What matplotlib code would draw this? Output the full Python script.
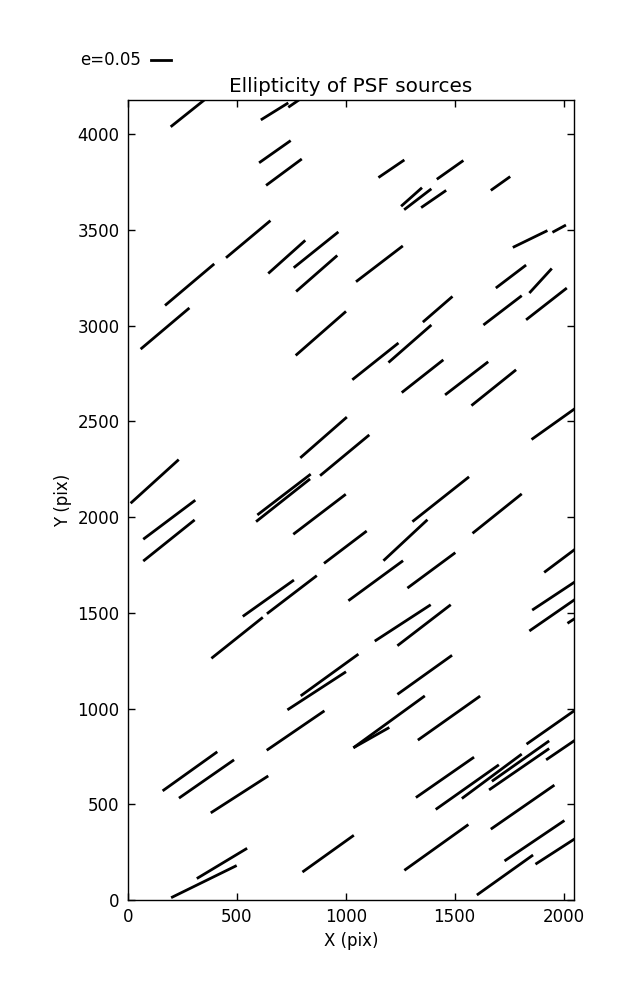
import matplotlib
matplotlib.use("Agg")
import matplotlib.pyplot as plt
from matplotlib.collections import LineCollection
from matplotlib.lines import Line2D

# Ellipticity sticks (data coordinates, start/end points)
x_start = [196, 610, 736, 602, 634, 1150, 1418, 1666, 1254, 1268, 1346, 450, 170, 644, 761, 772,
           1047, 1767, 1949, 1689, 1843, 1828, 1632, 1354,
           58, 770, 1030, 1196, 1257, 1456, 1577, 1853, 791, 882, 12, 594, 588, 759, 1306, 1582, 70,
           70, 900, 1173, 1283, 1012, 1911, 527, 638, 1856, 1843, 2018, 383, 1133, 1237, 793, 732,
           1237, 1035, 1035, 1331,
           637, 159, 234, 380, 1322, 1413, 1533, 1671, 1658, 1830, 1920, 1666, 316, 198, 801, 1269,
           1602, 1729, 1871]
y_start = [4038, 4074, 4140, 3850, 3732, 3773, 3764, 3706, 3623, 3605, 3616, 3354, 3105, 3272, 3302, 3178,
           3229, 3408, 3487, 3196, 3170, 3030, 3003, 3018,
           2877, 2844, 2717, 2807, 2650, 2638, 2582, 2405, 2309, 2216, 2072, 2011, 1976, 1910, 1976, 1915, 1884,
           1770, 1758, 1772, 1629, 1563, 1711, 1481, 1495, 1514, 1405, 1445, 1262, 1352, 1328, 1066, 993,
           1074, 795, 795, 835,
           782, 570, 532, 455, 535, 473, 530, 620, 575, 814, 732, 370, 112, 12, 146, 155,
           26, 204, 187]
x_end = [380, 736, 800, 747, 798, 1269, 1540, 1755, 1350, 1393, 1461, 654, 396, 814, 966, 961,
         1262, 1926, 2011, 1828, 1946, 2015, 1808, 1490,
         282, 1001, 1242, 1393, 1448, 1654, 1782, 2120, 1005, 1108, 233, 839, 836, 1000, 1566, 1808, 309,
         306, 1096, 1375, 1503, 1263, 2100, 762, 867, 2110, 2110, 2160, 619, 1390, 1482, 1058, 1001,
         1488, 1363, 1200, 1617,
         902, 410, 487, 644, 1589, 1703, 1808, 1934, 1934, 2100, 2100, 1958, 547, 499, 1037, 1563,
         1860, 2004, 2100]
y_end = [4205, 4163, 4190, 3966, 3870, 3865, 3862, 3778, 3720, 3714, 3706, 3548, 3322, 3445, 3489, 3366,
         3416, 3496, 3525, 3316, 3298, 3196, 3156, 3152,
         3092, 3074, 2909, 3003, 2821, 2811, 2769, 2621, 2522, 2429, 2300, 2224, 2199, 2119, 2210, 2121, 2088,
         1985, 1927, 1986, 1814, 1772, 1872, 1671, 1694, 1705, 1615, 1550, 1476, 1542, 1542, 1284, 1192,
         1278, 1066, 901, 1065,
         988, 774, 732, 648, 746, 706, 762, 831, 791, 1029, 871, 600, 270, 180, 338, 394,
         235, 415, 355]

x_ticks = [0, 500, 1000, 1500, 2000]
y_ticks = [0, 500, 1000, 1500, 2000, 2500, 3000, 3500, 4000]
key_label = "e=0.05"

fig = plt.figure(figsize=(6.37, 10.0), dpi=100)
ax = fig.add_axes([128 / 637, 0.1, 446 / 637, 0.8])

segs = [[(a, b), (c, d)] for a, b, c, d in zip(x_start, y_start, x_end, y_end)]
lc = LineCollection(segs, colors="black", linewidths=2.0, capstyle="butt")
ax.add_collection(lc)

ax.set_xlim(0, 2048)
ax.set_ylim(0, 4178)
ax.set_xticks(x_ticks)
ax.set_yticks(y_ticks)
ax.tick_params(direction="in", top=True, right=True, length=5, width=1, labelsize=12, pad=6)
for s in ax.spines.values():
    s.set_linewidth(1.0)
ax.set_xlabel("X (pix)", fontsize=12)
ax.set_ylabel("Y (pix)", fontsize=12)
ax.set_title("Ellipticity of PSF sources", fontsize=14.4)

# key
fig.text(141 / 637, 0.94, key_label, ha="right", va="center", fontsize=12)
fig.add_artist(Line2D([151 / 637, 171 / 637], [0.94, 0.94], color="black", lw=2.0,
                      transform=fig.transFigure))

fig.savefig("out.png", dpi=100)
